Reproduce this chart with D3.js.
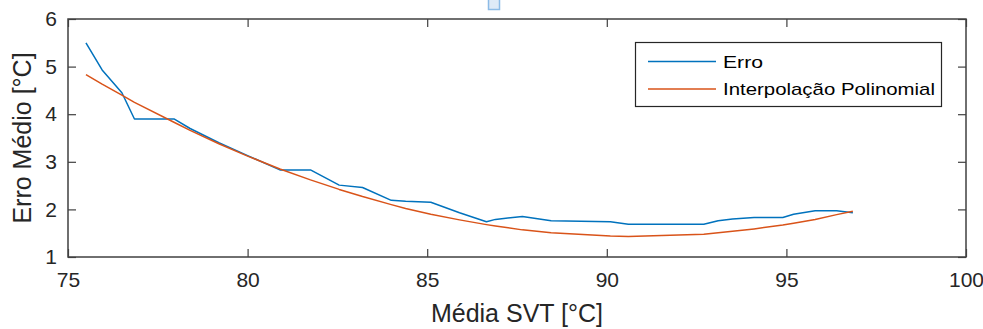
<!DOCTYPE html>
<html>
<head>
<meta charset="utf-8">
<script src="https://cdn.jsdelivr.net/npm/d3@7/dist/d3.min.js"></script>
<style>
  html, body { margin: 0; padding: 0; background: #fff; }
  svg { display: block; font-family: "Liberation Sans", Arial, Helvetica, sans-serif; }
</style>
</head>
<body>
<svg id="chart" width="983" height="329"></svg>
<script>
// Mean SVT temperature [°C]
const svtMean = [75.5, 75.95, 76.5, 76.85, 77.95, 78.4, 79.2, 80.0, 80.9, 81.75, 82.55, 83.2, 84.0, 84.4,
                 85.1, 85.9, 86.65, 86.9, 87.65, 88.45, 90.1, 90.6, 92.7, 93.1, 93.5, 94.1, 94.9, 95.2,
                 95.8, 96.4, 96.85];
// Mean error [°C]
const erroMedio = [5.50, 4.93, 4.45, 3.90, 3.90, 3.70, 3.40, 3.13, 2.83, 2.83, 2.51, 2.46, 2.19, 2.17,
                   2.15, 1.93, 1.74, 1.79, 1.85, 1.76, 1.74, 1.69, 1.69, 1.76, 1.80, 1.83, 1.83, 1.90,
                   1.97, 1.97, 1.93];
// Polynomial fit evaluated at the same temperatures
const interpPoli = [4.83, 4.63, 4.40, 4.25, 3.83, 3.66, 3.38, 3.12, 2.85, 2.62, 2.42, 2.27, 2.10, 2.02,
                    1.90, 1.78, 1.68, 1.65, 1.57, 1.51, 1.44, 1.43, 1.48, 1.51, 1.54, 1.59, 1.67, 1.71,
                    1.79, 1.89, 1.96];

const xTicks = [75, 80, 85, 90, 95, 100];
const yTicks = [1, 2, 3, 4, 5, 6];
const seriesNames = ["Erro", "Interpolação Polinomial"];
const seriesColors = ["#0072BD", "#D95319"];

const svg = d3.select("#chart");
const plotL = 68, plotR = 966, plotT = 19, plotB = 257;
const tickLen = 8;
const axisColor = "#404040";

const x = d3.scaleLinear().domain([75, 100]).range([plotL, plotR]);
const y = d3.scaleLinear().domain([1, 6]).range([plotB, plotT]);

// small marker at the top edge
svg.append("rect")
  .attr("x", 488.5).attr("y", -3.5).attr("width", 11).attr("height", 13)
  .attr("fill", "#dfeaf7").attr("stroke", "#8dbbe6").attr("stroke-width", 1.5);

// axes box with inward ticks on all four sides
const axisStyle = g => {
  g.select(".domain").remove();
  g.selectAll(".tick line").attr("stroke", axisColor).attr("stroke-width", 1.2);
  g.selectAll(".tick text").attr("fill", "#262626").attr("font-size", 21).attr("font-family", "Liberation Sans, Arial, sans-serif");
};

svg.append("g").attr("transform", `translate(0,${plotB})`)
  .call(d3.axisBottom(x).tickValues(xTicks).tickFormat(d3.format("d")).tickSizeInner(-tickLen).tickPadding(tickLen + 7))
  .call(axisStyle);
svg.append("g").attr("transform", `translate(0,${plotT})`)
  .call(d3.axisTop(x).tickValues(xTicks).tickFormat("").tickSizeInner(-tickLen))
  .call(axisStyle);
svg.append("g").attr("transform", `translate(${plotL},0)`)
  .call(d3.axisLeft(y).tickValues(yTicks).tickFormat(d3.format("d")).tickSizeInner(-tickLen).tickPadding(tickLen + 3))
  .call(axisStyle);
svg.append("g").attr("transform", `translate(${plotR},0)`)
  .call(d3.axisRight(y).tickValues(yTicks).tickFormat("").tickSizeInner(-tickLen))
  .call(axisStyle);

svg.append("rect")
  .attr("x", plotL).attr("y", plotT).attr("width", plotR - plotL).attr("height", plotB - plotT)
  .attr("fill", "none").attr("stroke", axisColor).attr("stroke-width", 1.5);

// data lines
const line = vals => d3.line().x((d, i) => x(svtMean[i])).y(d => y(d))(vals);
[erroMedio, interpPoli].forEach((vals, k) => {
  svg.append("path")
    .attr("d", line(vals))
    .attr("fill", "none")
    .attr("stroke", seriesColors[k])
    .attr("stroke-width", 1.5)
    .attr("stroke-linejoin", "round");
});

// axis labels
svg.append("text")
  .attr("x", (plotL + plotR) / 2).attr("y", 322)
  .attr("text-anchor", "middle").attr("font-size", 25).attr("fill", "#262626")
  .text("Média SVT [°C]");
svg.append("text")
  .attr("transform", `translate(31,${(plotT + plotB) / 2}) rotate(-90)`)
  .attr("text-anchor", "middle").attr("font-size", 25).attr("fill", "#262626")
  .text("Erro Médio [°C]");

// legend
const lg = svg.append("g");
lg.append("rect")
  .attr("x", 635.5).attr("y", 42.5).attr("width", 306).attr("height", 64)
  .attr("fill", "#fff").attr("stroke", "#262626").attr("stroke-width", 1.2);
const legendWidths = [40, 212];
seriesNames.forEach((name, k) => {
  const cy = 61.5 + k * 27.5;
  lg.append("line").attr("x1", 648).attr("x2", 716).attr("y1", cy).attr("y2", cy)
    .attr("stroke", seriesColors[k]).attr("stroke-width", 1.5);
  lg.append("text").attr("x", 723).attr("y", cy + 6)
    .attr("font-size", 17).attr("fill", "#000")
    .attr("textLength", legendWidths[k]).attr("lengthAdjust", "spacingAndGlyphs")
    .text(name);
});
</script>
</body>
</html>
